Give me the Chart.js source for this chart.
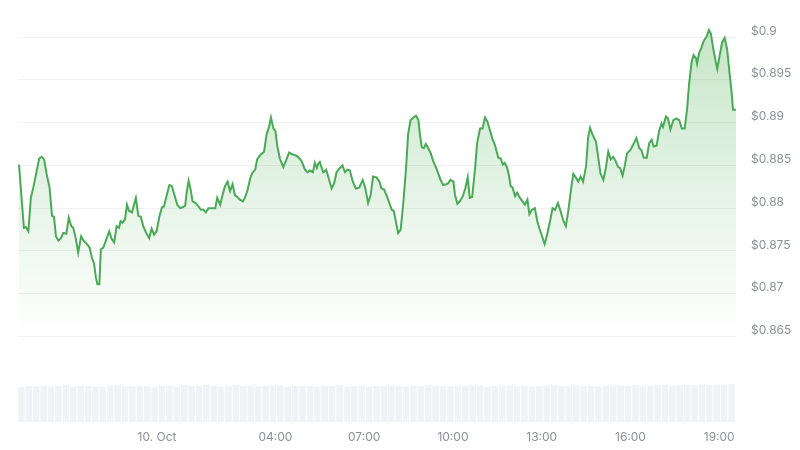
<!DOCTYPE html>
<html>
<head>
<meta charset="utf-8">
<script src="https://cdn.jsdelivr.net/npm/chart.js@4.4.1/dist/chart.umd.min.js"></script>
<style>
  html, body { margin: 0; padding: 0; background: #fff; }
  #wrap { width: 800px; height: 450px; }
</style>
</head>
<body>
<div id="wrap"><canvas id="priceChart"></canvas></div>
<script>
// minutes from 00:00 on 10 Oct (negative = evening of 9 Oct)
const times = [
  -280, -270, -266, -261, -256, -251, -239, -234, -229, -224,
  -218, -213, -209, -205, -200, -195, -190, -184, -179, -174,
  -170, -165, -160, -154, -149, -142, -137, -132, -128, -124,
  -121, -117, -114, -109, -102, -97, -92, -87, -82, -77,
  -74, -70, -65, -61, -57, -51, -43, -38, -33, -28,
  -22, -16, -11, -6, -1, 5, 10, 14, 20, 25,
  30, 35, 41, 47, 52, 57, 60, 64, 68, 72,
  78, 84, 89, 94, 99, 104, 111, 118, 122, 128,
  133, 138, 143, 148, 153, 158, 163, 168, 174, 178,
  183, 189, 193, 199, 203, 209, 217, 222, 227, 231,
  236, 240, 244, 249, 256, 263, 268, 274, 280, 286,
  293, 300, 305, 310, 316, 320, 324, 327, 330, 334,
  337, 343, 347, 354, 359, 364, 371, 376, 381, 386,
  391, 397, 403, 410, 417, 422, 428, 433, 438, 445,
  451, 455, 460, 466, 471, 476, 480, 484, 489, 494,
  499, 505, 509, 514, 520, 525, 530, 533, 537, 541,
  545, 550, 555, 560, 566, 570, 575, 580, 586, 590,
  595, 601, 604, 609, 614, 620, 625, 630, 634, 639,
  645, 649, 655, 660, 665, 670, 675, 680, 685, 692,
  697, 701, 705, 710, 714, 717, 721, 726, 730, 736,
  741, 746, 751, 755, 760, 766, 771, 776, 782, 786,
  791, 797, 802, 807, 813, 818, 824, 829, 834, 839,
  844, 849, 854, 859, 864, 870, 874, 878, 883, 890,
  895, 899, 905, 910, 915, 920, 925, 930, 935, 939,
  944, 949, 953, 960, 967, 972, 978, 982, 987, 993,
  998, 1003, 1007, 1013, 1018, 1023, 1026, 1032, 1036, 1041,
  1047, 1053, 1059, 1064, 1070, 1075, 1079, 1084, 1088, 1093,
  1095, 1099, 1104, 1109, 1114, 1119, 1123, 1128, 1133, 1136,
  1141, 1146, 1151, 1156, 1160, 1165, 1168, 1174
];

const prices = [
  0.8851, 0.8777, 0.8778, 0.8773, 0.8812, 0.8824, 0.8858, 0.8860, 0.8857, 0.8840,
  0.8824, 0.8791, 0.8790, 0.8767, 0.8762, 0.8765, 0.8771, 0.8770, 0.8789, 0.8779,
  0.8777, 0.8765, 0.8748, 0.8767, 0.8762, 0.8758, 0.8754, 0.8742, 0.8736, 0.8719,
  0.8711, 0.8711, 0.8752, 0.8754, 0.8765, 0.8773, 0.8764, 0.8760, 0.8779, 0.8777,
  0.8785, 0.8783, 0.8787, 0.8804, 0.8797, 0.8795, 0.8812, 0.8791, 0.8790, 0.8779,
  0.8771, 0.8765, 0.8776, 0.8769, 0.8773, 0.8791, 0.8801, 0.8802, 0.8816, 0.8827,
  0.8826, 0.8816, 0.8804, 0.8800, 0.8801, 0.8803, 0.8818, 0.8832, 0.8822, 0.8808,
  0.8806, 0.8802, 0.8798, 0.8798, 0.8795, 0.8800, 0.8800, 0.8800, 0.8812, 0.8804,
  0.8816, 0.8826, 0.8831, 0.8820, 0.8828, 0.8815, 0.8813, 0.8810, 0.8808, 0.8812,
  0.8820, 0.8835, 0.8841, 0.8845, 0.8857, 0.8862, 0.8866, 0.8886, 0.8895, 0.8906,
  0.8893, 0.8890, 0.8872, 0.8858, 0.8848, 0.8858, 0.8865, 0.8863, 0.8862, 0.8860,
  0.8855, 0.8845, 0.8842, 0.8844, 0.8842, 0.8853, 0.8847, 0.8852, 0.8854, 0.8847,
  0.8842, 0.8845, 0.8837, 0.8823, 0.8829, 0.8842, 0.8847, 0.8850, 0.8842, 0.8845,
  0.8844, 0.8831, 0.8823, 0.8824, 0.8833, 0.8824, 0.8806, 0.8815, 0.8837, 0.8836,
  0.8831, 0.8823, 0.8822, 0.8814, 0.8806, 0.8798, 0.8797, 0.8785, 0.8771, 0.8775,
  0.8804, 0.8847, 0.8886, 0.8903, 0.8906, 0.8908, 0.8903, 0.8886, 0.8871, 0.8870,
  0.8875, 0.8870, 0.8864, 0.8855, 0.8847, 0.8841, 0.8833, 0.8827, 0.8828, 0.8829,
  0.8833, 0.8831, 0.8816, 0.8805, 0.8808, 0.8814, 0.8823, 0.8836, 0.8812, 0.8813,
  0.8847, 0.8876, 0.8893, 0.8893, 0.8906, 0.8901, 0.8891, 0.8881, 0.8874, 0.8859,
  0.8858, 0.8851, 0.8853, 0.8847, 0.8837, 0.8826, 0.8824, 0.8814, 0.8818, 0.8812,
  0.8808, 0.8804, 0.8810, 0.8793, 0.8798, 0.8800, 0.8785, 0.8775, 0.8765, 0.8758,
  0.8769, 0.8785, 0.8800, 0.8798, 0.8806, 0.8797, 0.8785, 0.8779, 0.8797, 0.8820,
  0.8840, 0.8836, 0.8831, 0.8837, 0.8831, 0.8849, 0.8882, 0.8894, 0.8886, 0.8878,
  0.8858, 0.8841, 0.8833, 0.8847, 0.8866, 0.8857, 0.8860, 0.8855, 0.8848, 0.8847,
  0.8838, 0.8851, 0.8864, 0.8868, 0.8876, 0.8882, 0.8870, 0.8868, 0.8859, 0.8859,
  0.8876, 0.8880, 0.8872, 0.8873, 0.8890, 0.8899, 0.8895, 0.8907, 0.8905, 0.8892,
  0.8903, 0.8905, 0.8903, 0.8893, 0.8893, 0.8917, 0.8946, 0.8971, 0.8979, 0.8975,
  0.8969, 0.8981, 0.8988, 0.8996, 0.9000, 0.9008, 0.9004, 0.8986, 0.8971, 0.8963,
  0.8979, 0.8994, 0.8999, 0.8986, 0.8963, 0.8936, 0.8915, 0.8915
];

// volume buckets, one every 15 minutes
const volStart = -275;
const volStep = 15;
const volumes = [
  95, 98, 97, 99, 96, 98, 100, 97, 99, 98,
  97, 96, 99, 100, 98, 97, 99, 98, 96, 98,
  99, 97, 100, 98, 99, 101, 98, 97, 99, 100,
  98, 99, 97, 98, 100, 99, 97, 98, 99, 98,
  97, 99, 98, 100, 97, 98, 99, 97, 98, 99,
  100, 98, 97, 99, 98, 100, 99, 98, 97, 99,
  98, 100, 99, 97, 98, 99, 100, 98, 99, 97,
  98, 99, 100, 98, 99, 100, 98, 99, 97, 99,
  100, 99, 98, 100, 99, 98, 100, 101, 99, 100,
  101, 100, 102, 101, 103, 102, 104
];

const tickMinutes = [0, 240, 420, 600, 780, 960, 1140];
const tickLabels = ['10. Oct', '04:00', '07:00', '10:00', '13:00', '16:00', '19:00'];
const priceTicks = [0.865, 0.87, 0.875, 0.88, 0.885, 0.89, 0.895, 0.9];

const labelColor = '#8b919a';
const lineGreen = '#4aa957';

document.addEventListener('DOMContentLoaded', function () {
    const ctx = document.getElementById('priceChart').getContext('2d');

    const priceData = times.map((t, i) => ({ x: t, y: prices[i] }));
    const volData = volumes.map((v, i) => ({ x: volStart + i * volStep, y: v }));

    new Chart(ctx, {
        data: {
            datasets: [{
                type: 'line',
                data: priceData,
                yAxisID: 'y',
                borderColor: lineGreen,
                borderWidth: 2,
                pointRadius: 0,
                tension: 0,
                fill: { target: { value: 0.865 } },
                backgroundColor: function (context) {
                    const chart = context.chart;
                    const area = chart.chartArea;
                    if (!area) return 'rgba(76,175,80,0.15)';
                    const bottom = chart.scales.y.getPixelForValue(0.865);
                    const g = chart.ctx.createLinearGradient(0, area.top, 0, bottom);
                    g.addColorStop(0, 'rgba(76,175,80,0.32)');
                    g.addColorStop(1, 'rgba(76,175,80,0)');
                    return g;
                },
                order: 1
            }, {
                type: 'bar',
                data: volData,
                yAxisID: 'yVol',
                backgroundColor: '#f0f2f5',
                barPercentage: 0.88,
                categoryPercentage: 1,
                order: 2
            }]
        },
        options: {
            responsive: true,
            maintainAspectRatio: false,
            animation: false,
            layout: { padding: { left: 18, top: 20, right: 0, bottom: 4 } },
            plugins: {
                legend: { display: false },
                tooltip: { enabled: false }
            },
            scales: {
                x: {
                    type: 'linear',
                    min: -282,
                    max: 1174,
                    offset: false,
                    grid: { display: false, drawTicks: false },
                    border: { display: false },
                    afterBuildTicks: s => { s.ticks = tickMinutes.map(v => ({ value: v })); },
                    afterFit: s => { s.height = 24; },
                    ticks: {
                        autoSkip: false,
                        maxRotation: 0,
                        padding: 8,
                        color: labelColor,
                        font: { family: 'Inter', size: 12 },
                        callback: v => tickLabels[tickMinutes.indexOf(v)]
                    }
                },
                y: {
                    position: 'right',
                    min: 0.855,
                    max: 0.90174,
                    grid: { color: '#eff1f4', drawTicks: false },
                    border: { display: false },
                    afterBuildTicks: s => { s.ticks = priceTicks.map(v => ({ value: v })); },
                    afterFit: s => { s.width = 64; },
                    ticks: {
                        padding: 15,
                        labelOffset: -6,
                        color: labelColor,
                        font: { family: 'Inter', size: 12 },
                        callback: v => '$' + parseFloat(v.toFixed(3))
                    }
                },
                yVol: {
                    display: false,
                    min: 0,
                    max: 1090
                }
            }
        }
    });
});
</script>
</body>
</html>
